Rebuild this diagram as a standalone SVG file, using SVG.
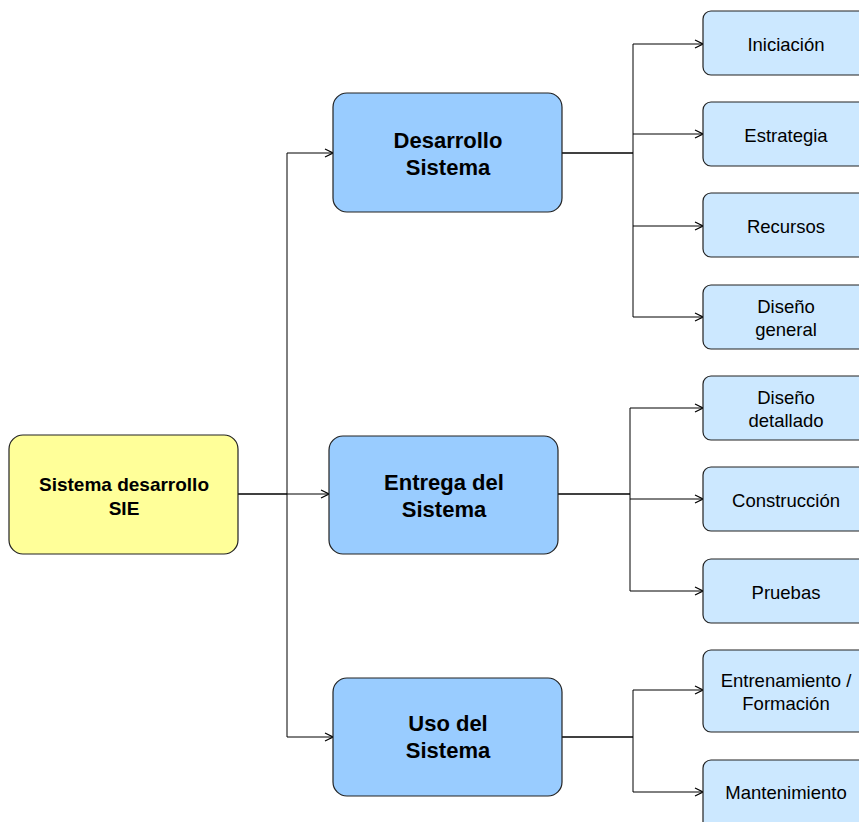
<svg xmlns="http://www.w3.org/2000/svg" width="859" height="822" viewBox="0 0 859 822">
<style>
.root{fill:#FFFF99;stroke:#222;stroke-width:1.2}
.mid{fill:#99CCFF;stroke:#222;stroke-width:1.2}
.leaf{fill:#CCE8FF;stroke:#222;stroke-width:1.2}
text{font-family:"Liberation Sans",Arial,sans-serif;text-anchor:middle;fill:#000}
.rt{font-size:19px;font-weight:bold}
.mt{font-size:22px;font-weight:bold}
.lt{font-size:18.5px}
.c{fill:none;stroke:#000;stroke-width:1}
.cb{fill:none;stroke:#000;stroke-width:1.6}
</style>
<defs>
<marker id="ar" viewBox="0 0 10 10" refX="10" refY="5" markerWidth="10" markerHeight="10" markerUnits="userSpaceOnUse" orient="auto">
<path d="M2,1 L10,5 L2,9" fill="none" stroke="#000" stroke-width="1.2"/>
</marker>
</defs>
<rect width="859" height="822" fill="#fff"/>
<g id="connectors">
<path class="cb" d="M238,494 H287"/>
<path class="c" d="M287,494 H329" marker-end="url(#ar)"/>
<path class="c" d="M287,153 V737"/>
<path class="c" d="M287,153 H333" marker-end="url(#ar)"/>
<path class="c" d="M287,737 H333" marker-end="url(#ar)"/>
<path class="cb" d="M562,153 H633"/>
<path class="c" d="M633,44 V317"/>
<path class="c" d="M633,44 H703" marker-end="url(#ar)"/>
<path class="c" d="M633,134 H703" marker-end="url(#ar)"/>
<path class="c" d="M633,226 H703" marker-end="url(#ar)"/>
<path class="c" d="M633,317 H703" marker-end="url(#ar)"/>
<path class="cb" d="M558,494 H630"/>
<path class="c" d="M630,408 V591"/>
<path class="c" d="M630,408 H703" marker-end="url(#ar)"/>
<path class="c" d="M630,499 H703" marker-end="url(#ar)"/>
<path class="c" d="M630,591 H703" marker-end="url(#ar)"/>
<path class="cb" d="M562,737 H633"/>
<path class="c" d="M633,690 V792"/>
<path class="c" d="M633,690 H703" marker-end="url(#ar)"/>
<path class="c" d="M633,792 H703" marker-end="url(#ar)"/>
</g>
<g id="root">
<rect class="root" x="9" y="435" width="229" height="119" rx="14"/>
<text class="rt" x="124" y="491">Sistema desarrollo</text>
<text class="rt" x="124" y="515">SIE</text>
</g>
<g id="desarrollo">
<rect class="mid" x="333" y="93" width="229" height="119" rx="14"/>
<text class="mt" x="448" y="148">Desarrollo</text>
<text class="mt" x="448" y="175">Sistema</text>
</g>
<g id="entrega">
<rect class="mid" x="329" y="436" width="229" height="118" rx="14"/>
<text class="mt" x="444" y="490">Entrega del</text>
<text class="mt" x="444" y="517">Sistema</text>
</g>
<g id="uso">
<rect class="mid" x="333" y="678" width="229" height="118" rx="14"/>
<text class="mt" x="448" y="731">Uso del</text>
<text class="mt" x="448" y="758">Sistema</text>
</g>
<g id="iniciacion">
<rect class="leaf" x="703" y="11" width="170" height="64" rx="8"/>
<text class="lt" x="786" y="51">Iniciación</text>
</g>
<g id="estrategia">
<rect class="leaf" x="703" y="102" width="170" height="64" rx="8"/>
<text class="lt" x="786" y="142">Estrategia</text>
</g>
<g id="recursos">
<rect class="leaf" x="703" y="193" width="170" height="64" rx="8"/>
<text class="lt" x="786" y="233">Recursos</text>
</g>
<g id="diseno-general">
<rect class="leaf" x="703" y="285" width="170" height="64" rx="8"/>
<text class="lt" x="786" y="313">Diseño</text>
<text class="lt" x="786" y="336">general</text>
</g>
<g id="diseno-detallado">
<rect class="leaf" x="703" y="376" width="170" height="64" rx="8"/>
<text class="lt" x="786" y="404">Diseño</text>
<text class="lt" x="786" y="427">detallado</text>
</g>
<g id="construccion">
<rect class="leaf" x="703" y="467" width="170" height="64" rx="8"/>
<text class="lt" x="786" y="507">Construcción</text>
</g>
<g id="pruebas">
<rect class="leaf" x="703" y="559" width="170" height="64" rx="8"/>
<text class="lt" x="786" y="599">Pruebas</text>
</g>
<g id="entrenamiento">
<rect class="leaf" x="703" y="650" width="170" height="82" rx="8"/>
<text class="lt" x="786" y="687">Entrenamiento /</text>
<text class="lt" x="786" y="710">Formación</text>
</g>
<g id="mantenimiento">
<rect class="leaf" x="703" y="760" width="170" height="82" rx="8"/>
<text class="lt" x="786" y="799">Mantenimiento</text>
</g>
</svg>
